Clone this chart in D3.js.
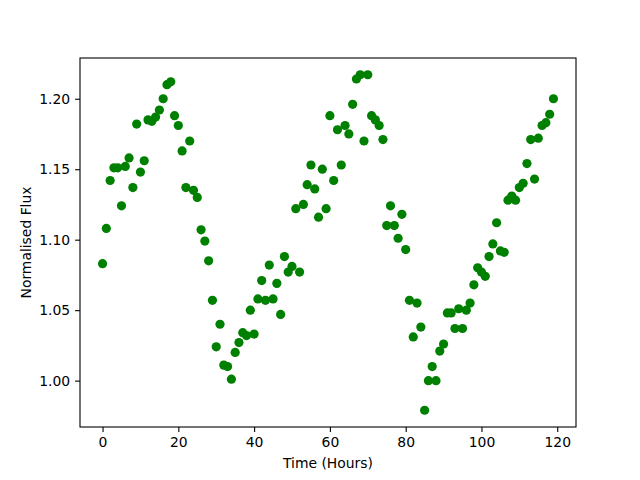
<!DOCTYPE html>
<html>
<head>
<meta charset="utf-8">
<script src="https://cdn.jsdelivr.net/npm/d3@7"></script>
<style>
  body { margin: 0; background: #fff; }
  svg { font-family: "DejaVu Sans", sans-serif; }
</style>
</head>
<body>
<div id="graphicContainer"></div>
<script>
// hours 0..119, one reading per hour
var hours = d3.range(0, 120)
var flux = [
  1.083, 1.108, 1.142, 1.151, 1.151, 1.124, 1.152, 1.158, 1.137, 1.182,
  1.148, 1.156, 1.185, 1.184, 1.187, 1.192, 1.200, 1.210, 1.212, 1.188,
  1.181, 1.163, 1.137, 1.170, 1.135, 1.130, 1.107, 1.099, 1.085, 1.057,
  1.024, 1.040, 1.011, 1.010, 1.001, 1.020, 1.027, 1.034, 1.032, 1.050,
  1.033, 1.058, 1.071, 1.057, 1.082, 1.058, 1.069, 1.047, 1.088, 1.077,
  1.081, 1.122, 1.077, 1.125, 1.139, 1.153, 1.136, 1.116, 1.150, 1.122,
  1.188, 1.142, 1.178, 1.153, 1.181, 1.175, 1.196, 1.214, 1.217, 1.170,
  1.217, 1.188, 1.185, 1.181, 1.171, 1.110, 1.124, 1.110, 1.101, 1.118,
  1.093, 1.057, 1.031, 1.055, 1.038, 0.979, 1.000, 1.010, 1.000, 1.021,
  1.026, 1.048, 1.048, 1.037, 1.051, 1.037, 1.050, 1.055, 1.068, 1.080,
  1.077, 1.074, 1.088, 1.097, 1.112, 1.092, 1.091, 1.128, 1.131, 1.128,
  1.137, 1.140, 1.154, 1.171, 1.143, 1.172, 1.181, 1.183, 1.189, 1.200
]
var xTicks = [0, 20, 40, 60, 80, 100, 120]
var yTicks = [1.00, 1.05, 1.10, 1.15, 1.20]

var width = 640
var height = 480
var margin = { left: 80, right: 64, top: 58, bottom: 53 }
var color = "#008000"

var svg = d3.select("#graphicContainer")
  .append("svg")
  .attr("width", width)
  .attr("height", height)

// 5% padding like matplotlib autoscale
var xPad = (d3.max(hours) - d3.min(hours)) * 0.05
var yPad = (d3.max(flux) - d3.min(flux)) * 0.05

var x = d3.scaleLinear()
  .domain([d3.min(hours) - xPad, d3.max(hours) + xPad])
  .range([margin.left, width - margin.right])

var y = d3.scaleLinear()
  .domain([d3.min(flux) - yPad, d3.max(flux) + yPad])
  .range([height - margin.bottom, margin.top])

svg.append("g")
  .selectAll("circle")
  .data(hours)
  .join("circle")
  .attr("cx", function (d) { return x(d) })
  .attr("cy", function (d, i) { return y(flux[i]) })
  .attr("r", 4.6)
  .attr("fill", color)

var xAxis = svg.append("g")
  .attr("transform", "translate(0," + (height - margin.bottom) + ")")
  .call(d3.axisBottom(x).tickValues(xTicks).tickSize(4.9).tickPadding(4.9).tickFormat(d3.format("d")))

var yAxis = svg.append("g")
  .attr("transform", "translate(" + margin.left + ",0)")
  .call(d3.axisLeft(y).tickValues(yTicks).tickSize(4.9).tickPadding(4.9).tickFormat(d3.format(".2f")))

;[xAxis, yAxis].forEach(function (g) {
  g.select(".domain").remove()
  g.selectAll("line").attr("stroke", "#000").attr("stroke-width", 1.1)
  g.selectAll("text")
    .attr("fill", "#000")
    .style("font-size", "13.9px")
    .style("font-family", "DejaVu Sans")
})

// frame
svg.append("rect")
  .attr("x", margin.left)
  .attr("y", margin.top)
  .attr("width", width - margin.left - margin.right)
  .attr("height", height - margin.top - margin.bottom)
  .attr("fill", "none")
  .attr("stroke", "#000")
  .attr("stroke-width", 1.1)

svg.append("text")
  .attr("x", (margin.left + width - margin.right) / 2)
  .attr("y", 468)
  .attr("text-anchor", "middle")
  .style("font-size", "13.9px")
  .text("Time (Hours)")

svg.append("text")
  .attr("transform", "translate(31," + ((margin.top + height - margin.bottom) / 2) + ") rotate(-90)")
  .attr("text-anchor", "middle")
  .style("font-size", "13.9px")
  .text("Normalised Flux")
</script>
</body>
</html>
